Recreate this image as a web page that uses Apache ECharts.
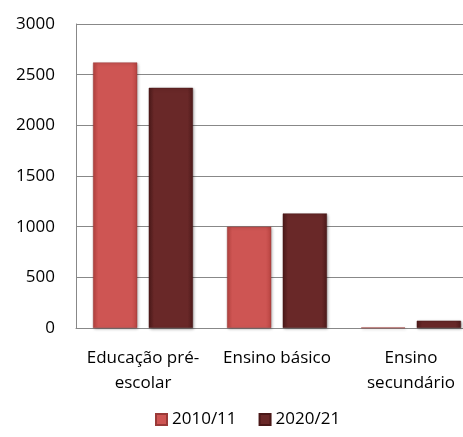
<!DOCTYPE html>
<html>
<head>
<meta charset="utf-8">
<script src="https://cdn.jsdelivr.net/npm/echarts@6/dist/echarts.min.js"></script>
<style>
  html, body { margin: 0; padding: 0; background: #fff; overflow: hidden; }
  /* a bit wider than the window: the last category is cut by the picture edge */
  #chart { width: 478px; height: 437px; }
</style>
</head>
<body>
<div id="chart"></div>
<script>
// categorias e valores
var categories = ["Educação pré-\nescolar", "Ensino básico", "Ensino\nsecundário"];
var seriesNames = ["2010/11", "2020/21"];
var values2010 = [2620, 1000, 4];
var values2020 = [2370, 1130, 72];

var chart = echarts.init(document.getElementById("chart"));

function barColor(edge, mid) {
  return new echarts.graphic.LinearGradient(0, 0, 1, 0, [
    { offset: 0, color: edge },
    { offset: 0.12, color: mid },
    { offset: 0.88, color: mid },
    { offset: 1, color: edge },
  ]);
}

chart.setOption({
  animation: false,
  textStyle: { fontFamily: "Open Sans" },
  grid: {
    left: 76,
    right: 0,
    top: 24,
    bottom: 109,
  },
  legend: {
    data: seriesNames,
    bottom: 4,
    left: 150,
    itemWidth: 11,
    itemHeight: 11,
    itemGap: 22,
    icon: "rect",
    textStyle: { fontSize: 17, color: "#000" },
  },
  xAxis: {
    type: "category",
    data: categories,
    axisTick: { show: false },
    axisLine: { lineStyle: { color: "#888", width: 1 } },
    axisLabel: {
      color: "#000",
      fontSize: 17,
      lineHeight: 25,
      margin: 18,
      interval: 0,
    },
  },
  yAxis: {
    type: "value",
    min: 0,
    max: 3000,
    interval: 500,
    axisLine: { show: true, lineStyle: { color: "#888", width: 1 } },
    axisTick: { show: false },
    splitLine: { lineStyle: { color: "#888", width: 1 } },
    axisLabel: {
      color: "#000",
      fontSize: 17,
      margin: 21,
      formatter: function (v) { return String(v); },
    },
  },
  series: [
    {
      name: seriesNames[0],
      type: "bar",
      data: values2010,
      barWidth: "33%",
      barGap: "26%",
      itemStyle: {
        color: barColor("#B94441", "#CE5553"),
        borderColor: "#9a3a38",
        borderWidth: 0.5,
        shadowColor: "rgba(0,0,0,0.35)",
        shadowBlur: 3,
        shadowOffsetX: 1,
        shadowOffsetY: 1,
      },
    },
    {
      name: seriesNames[1],
      type: "bar",
      data: values2020,
      barWidth: "33%",
      itemStyle: {
        color: barColor("#4E1A1A", "#692828"),
        borderColor: "#4a1818",
        borderWidth: 0.5,
        shadowColor: "rgba(0,0,0,0.35)",
        shadowBlur: 3,
        shadowOffsetX: 1,
        shadowOffsetY: 1,
      },
    },
  ],
});
</script>
</body>
</html>
